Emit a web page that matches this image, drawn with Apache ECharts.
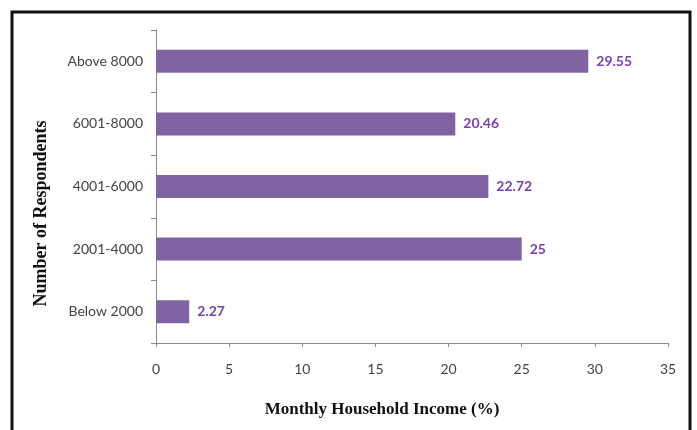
<!DOCTYPE html>
<html>
<head>
<meta charset="utf-8">
<script src="https://cdn.jsdelivr.net/npm/echarts@6/dist/echarts.min.js"></script>
<style>
  html, body { margin: 0; padding: 0; background: #fff; }
  #chart { width: 697px; height: 430px; }
</style>
</head>
<body>
<div id="chart"></div>
<script>
// categories from bottom to top
const categories = ['Below 2000', '2001-4000', '4001-6000', '6001-8000', 'Above 8000'];
const values = [2.27, 25, 22.72, 20.46, 29.55];
const xTicks = { min: 0, max: 35, interval: 5 };

const chart = echarts.init(document.getElementById('chart'));

const option = {
  animation: false,
  grid: {
    left: 156,
    right: 29,
    top: 30,
    bottom: 87
  },
  // outer frame
  graphic: [
    {
      type: 'rect',
      shape: { x: 12, y: 12, width: 678, height: 440 },
      style: { fill: 'none', stroke: '#111', lineWidth: 3 },
      silent: true
    }
  ],
  xAxis: {
    type: 'value',
    min: xTicks.min,
    max: xTicks.max,
    interval: xTicks.interval,
    name: 'Monthly Household Income (%)',
    nameLocation: 'middle',
    nameGap: 58,
    nameTextStyle: {
      fontFamily: 'Liberation Serif',
      fontWeight: 'bold',
      fontSize: 17,
      color: '#111',
      padding: [0, 60, 0, 0]
    },
    axisLine: { show: true, lineStyle: { color: '#8a8a8a', width: 1 } },
    axisTick: { show: true, length: 4, lineStyle: { color: '#8a8a8a' } },
    splitLine: { show: false },
    axisLabel: {
      margin: 19,
      fontFamily: 'Lato',
      fontSize: 14,
      color: '#444'
    }
  },
  yAxis: {
    type: 'category',
    data: categories,
    name: 'Number of Respondents',
    nameLocation: 'middle',
    nameGap: 106,
    nameRotate: 90,
    nameTextStyle: {
      fontFamily: 'Liberation Serif',
      fontWeight: 'bold',
      fontSize: 18,
      color: '#111',
      padding: [0, 54, 0, 0]
    },
    axisLine: { show: true, lineStyle: { color: '#8a8a8a', width: 1 } },
    axisTick: { show: true, length: 5, lineStyle: { color: '#8a8a8a' } },
    axisLabel: {
      margin: 13,
      fontFamily: 'Lato',
      fontSize: 14,
      color: '#444'
    }
  },
  series: [
    {
      type: 'bar',
      data: values,
      barWidth: 23,
      itemStyle: { color: '#8064A2' },
      label: {
        show: true,
        position: 'right',
        distance: 8,
        fontFamily: 'Lato',
        fontWeight: 'bold',
        fontSize: 14,
        color: '#7a3fb0'
      }
    }
  ]
};

chart.setOption(option);
</script>
</body>
</html>
